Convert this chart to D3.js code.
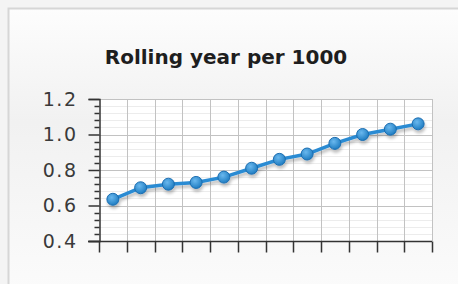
<!DOCTYPE html>
<html lang="en">
<head>
<meta charset="utf-8">
<title>Rolling year per 1000</title>
<script src="https://cdn.jsdelivr.net/npm/d3@7"></script>
<style>
  html, body { margin: 0; padding: 0; background: #f4f4f4; }
  svg { display: block; }
</style>
</head>
<body>
<script>
// values (12 periods, no category labels shown)
var periods = d3.range(1, 13).map(function(i) { return 'P' + i; });
var values = [0.635, 0.70, 0.72, 0.73, 0.76, 0.81, 0.86, 0.89, 0.95, 1.00, 1.03, 1.06];
var yTicks = [0.4, 0.6, 0.8, 1.0, 1.2];
var title = 'Rolling year per 1000';

var W = 458, H = 284;
var m = { left: 99, right: 26, top: 99, bottom: 43 };

var svg = d3.select('body').append('svg')
  .attr('width', W)
  .attr('height', H);

var defs = svg.append('defs');
var bg = defs.append('linearGradient').attr('id', 'bg').attr('x1', 0).attr('y1', 0).attr('x2', 0).attr('y2', 1);
bg.append('stop').attr('offset', '0%').attr('stop-color', '#fdfdfd');
bg.append('stop').attr('offset', '40%').attr('stop-color', '#f1f1f1');
bg.append('stop').attr('offset', '100%').attr('stop-color', '#fbfbfb');

var dot = defs.append('radialGradient').attr('id', 'dot').attr('cx', '40%').attr('cy', '35%').attr('r', '65%');
dot.append('stop').attr('offset', '0%').attr('stop-color', '#6ab8ee');
dot.append('stop').attr('offset', '100%').attr('stop-color', '#1f7dc2');

var shadow = defs.append('filter').attr('id', 'sh').attr('x', '-10%').attr('y', '-10%').attr('width', '120%').attr('height', '130%');
shadow.append('feGaussianBlur').attr('in', 'SourceAlpha').attr('stdDeviation', 1.5);
shadow.append('feOffset').attr('dx', 1).attr('dy', 3).attr('result', 'b');
shadow.append('feComponentTransfer').append('feFuncA').attr('type', 'linear').attr('slope', 0.25);
var mg = shadow.append('feMerge');
mg.append('feMergeNode');
mg.append('feMergeNode').attr('in', 'SourceGraphic');

// panel
svg.append('rect')
  .attr('x', 8.5).attr('y', 8.5)
  .attr('width', W).attr('height', H)
  .attr('fill', 'url(#bg)')
  .attr('stroke', '#d6d6d6')
  .attr('stroke-width', 2);

svg.append('text')
  .attr('x', 226).attr('y', 63.5)
  .attr('text-anchor', 'middle')
  .style('font-family', 'DejaVu Sans, Verdana, sans-serif')
  .style('font-weight', 'bold')
  .style('font-size', '20px')
  .attr('fill', '#1e1e1e')
  .text(title);

var x = d3.scaleBand().domain(periods).range([m.left, W - m.right]);
var y = d3.scaleLinear().domain([0.4, 1.2]).range([H - m.bottom, m.top]);

var g = svg.append('g');

g.append('rect')
  .attr('x', m.left).attr('y', m.top)
  .attr('width', W - m.right - m.left).attr('height', H - m.bottom - m.top)
  .attr('fill', '#fff');

// minor horizontal grid
var minor = d3.range(0.44, 1.2, 0.04).filter(function(v) { return Math.abs((v * 5) - Math.round(v * 5)) > 0.01; });
g.selectAll('.minor').data(minor).enter().append('line')
  .attr('x1', m.left).attr('x2', W - m.right)
  .attr('y1', function(d) { return Math.round(y(d)) + 0.5; })
  .attr('y2', function(d) { return Math.round(y(d)) + 0.5; })
  .attr('stroke', '#ececec');

// major horizontal grid
g.selectAll('.major').data(yTicks.slice(1)).enter().append('line')
  .attr('x1', m.left).attr('x2', W - m.right)
  .attr('y1', function(d) { return Math.round(y(d)) + 0.5; })
  .attr('y2', function(d) { return Math.round(y(d)) + 0.5; })
  .attr('stroke', '#c2c2c2');

// vertical grid at band edges
var edges = periods.map(function(p) { return x(p); }).concat([W - m.right]);
g.selectAll('.vgrid').data(edges.slice(1)).enter().append('line')
  .attr('x1', function(d) { return Math.round(d) + 0.5; })
  .attr('x2', function(d) { return Math.round(d) + 0.5; })
  .attr('y1', m.top).attr('y2', H - m.bottom)
  .attr('stroke', '#c2c2c2');

// y axis
var yAxis = d3.axisLeft(y).tickValues(yTicks).tickFormat(d3.format('.1f')).tickSize(11).tickPadding(11);
var ya = svg.append('g').attr('transform', 'translate(' + (m.left + 0.5) + ',0)').call(yAxis);
ya.select('.domain').attr('stroke', '#333').attr('stroke-width', 1.5);
ya.selectAll('.tick line').attr('stroke', '#333').attr('stroke-width', 1.5);
ya.selectAll('text')
  .style('font-family', 'DejaVu Sans, Verdana, sans-serif')
  .style('font-size', '19px')
  .style('letter-spacing', '1.5px')
  .attr('fill', '#3a3a3a');
ya.selectAll('.mt').data(minor).enter().append('line')
  .attr('x1', -5).attr('x2', 0)
  .attr('y1', function(d) { return Math.round(y(d)) + 0.5; })
  .attr('y2', function(d) { return Math.round(y(d)) + 0.5; })
  .attr('stroke', '#333').attr('stroke-width', 1.5);

// x axis (ticks only)
var xa = svg.append('g').attr('transform', 'translate(0,' + (H - m.bottom + 0.5) + ')');
xa.append('line')
  .attr('x1', m.left - 11).attr('x2', W - m.right)
  .attr('stroke', '#333').attr('stroke-width', 1.5);
xa.selectAll('.xt').data(edges).enter().append('line')
  .attr('x1', function(d) { return Math.round(d) + 0.5; })
  .attr('x2', function(d) { return Math.round(d) + 0.5; })
  .attr('y1', 0).attr('y2', 11)
  .attr('stroke', '#333').attr('stroke-width', 1.5);

// series
var cx = function(d, i) { return x(periods[i]) + x.bandwidth() / 2; };
var series = svg.append('g').attr('filter', 'url(#sh)');
series.append('path')
  .datum(values)
  .attr('d', d3.line().x(cx).y(function(d) { return y(d); }))
  .attr('fill', 'none')
  .attr('stroke', '#2a8bd3')
  .attr('stroke-width', 3.5);
series.selectAll('circle').data(values).enter().append('circle')
  .attr('cx', cx)
  .attr('cy', function(d) { return y(d); })
  .attr('r', 6)
  .attr('fill', 'url(#dot)')
  .attr('stroke', '#1b6db0')
  .attr('stroke-width', 1);
</script>
</body>
</html>
